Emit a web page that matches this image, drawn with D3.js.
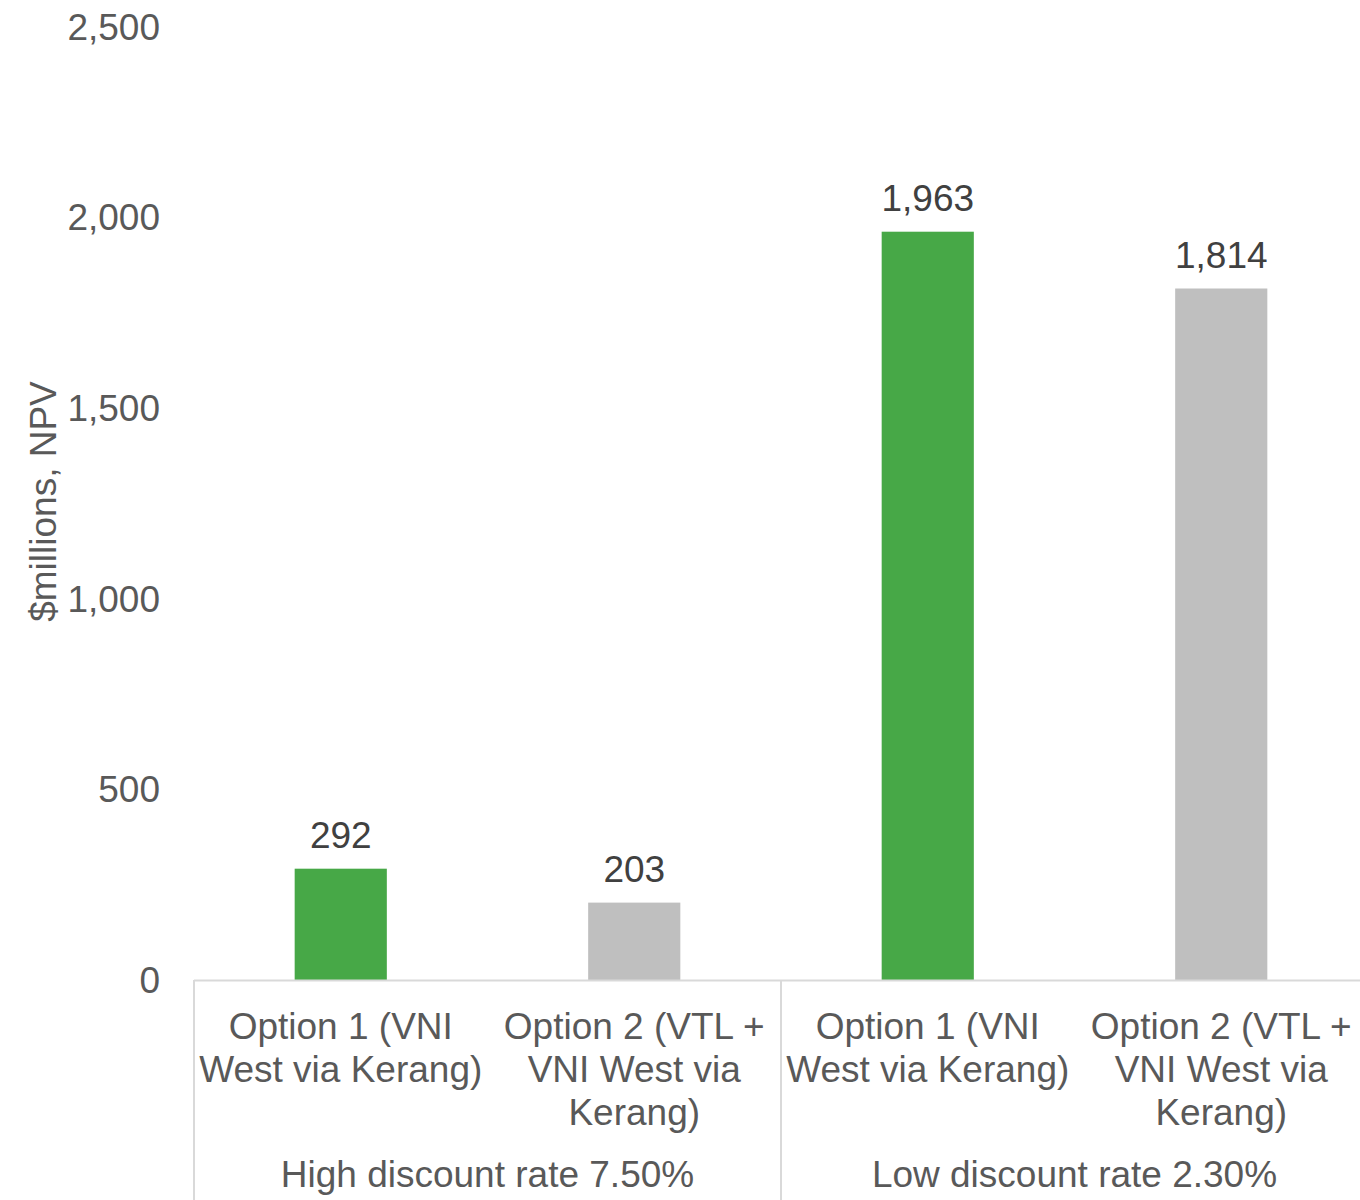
<!DOCTYPE html>
<html>
<head>
<meta charset="utf-8">
<script src="https://cdn.jsdelivr.net/npm/d3@7"></script>
<style>
  html, body { margin: 0; padding: 0; background: #fff; }
  svg { display: block; font-family: "Liberation Sans", Arial, sans-serif; }
</style>
</head>
<body>
<svg id="chart" width="1360" height="1200"></svg>
<script>
// ---- data ----
const categories = [
  ["Option 1 (VNI", "West via Kerang)"],
  ["Option 2 (VTL +", "VNI West via", "Kerang)"],
  ["Option 1 (VNI", "West via Kerang)"],
  ["Option 2 (VTL +", "VNI West via", "Kerang)"]
];
const groups = ["High discount rate 7.50%", "Low discount rate 2.30%"];
const values = [292, 203, 1963, 1814];
const optionType = [1, 2, 1, 2];
const yTicks = [0, 500, 1000, 1500, 2000, 2500];

(function () {
// ---- layout ----
const svg = d3.select("#chart");
const plotLeft = 194, plotRight = 1368, plotTop = 27, plotBase = 980;
const colors = { 1: "#47a847", 2: "#bfbfbf" };
const axisColor = "#d9d9d9";
const textColor = "#595959";
const fs = 37;

const ids = d3.range(values.length);
const x = d3.scaleBand().domain(ids).range([plotLeft, plotRight]).paddingInner(0.686).paddingOuter(0.343);
const y = d3.scaleLinear().domain([0, 2500]).range([plotBase, plotTop]);

// y tick labels (no lines)
const yAxis = d3.axisLeft(y).tickValues(yTicks).tickFormat(d3.format(",")).tickSize(0).tickPadding(0);
const yg = svg.append("g").attr("transform", "translate(160,0)").call(yAxis);
yg.select(".domain").remove();
yg.selectAll("text").attr("font-size", fs).attr("fill", textColor)
  .attr("font-family", "Liberation Sans, Arial, sans-serif").attr("dy", "0.33em");

// axis title
svg.append("text")
  .attr("transform", `translate(56,${(plotTop + plotBase) / 2 - 2}) rotate(-90)`)
  .attr("text-anchor", "middle")
  .attr("font-size", fs).attr("fill", textColor)
  .text("$millions, NPV");

// bars
svg.append("g").selectAll("rect").data(ids).join("rect")
  .attr("x", i => x(i))
  .attr("width", x.bandwidth())
  .attr("y", i => y(values[i]))
  .attr("height", i => y(0) - y(values[i]))
  .attr("fill", i => colors[optionType[i]]);

// data labels
svg.append("g").selectAll("text").data(ids).join("text")
  .attr("x", i => x(i) + x.bandwidth() / 2)
  .attr("y", i => y(values[i]) - 21)
  .attr("text-anchor", "middle")
  .attr("font-size", fs).attr("fill", "#404040")
  .text(i => d3.format(",")(values[i]));

// baseline and group dividers
svg.append("line").attr("x1", plotLeft).attr("x2", plotRight).attr("y1", plotBase + 0.5).attr("y2", plotBase + 0.5)
  .attr("stroke", axisColor).attr("stroke-width", 2);
const step = x.step();
const dividers = [0, 2, 4].map(k => plotLeft + k * step);
svg.append("g").selectAll("line").data(dividers).join("line")
  .attr("x1", d => d).attr("x2", d => d).attr("y1", plotBase).attr("y2", 1200)
  .attr("stroke", axisColor).attr("stroke-width", 2);

// category labels
const catG = svg.append("g").selectAll("text").data(ids).join("text")
  .attr("text-anchor", "middle").attr("font-size", fs).attr("fill", textColor);
catG.each(function(i) {
  const cx = x(i) + x.bandwidth() / 2;
  d3.select(this).selectAll("tspan").data(categories[i]).join("tspan")
    .attr("x", cx).attr("y", (d, j) => 1039 + j * 43).text(d => d);
});

// group labels
svg.append("g").selectAll("text").data(groups).join("text")
  .attr("x", (d, g) => plotLeft + (2 * g + 1) * step)
  .attr("y", 1187)
  .attr("text-anchor", "middle").attr("font-size", fs).attr("fill", textColor)
  .text(d => d);
})();
</script>
</body>
</html>
